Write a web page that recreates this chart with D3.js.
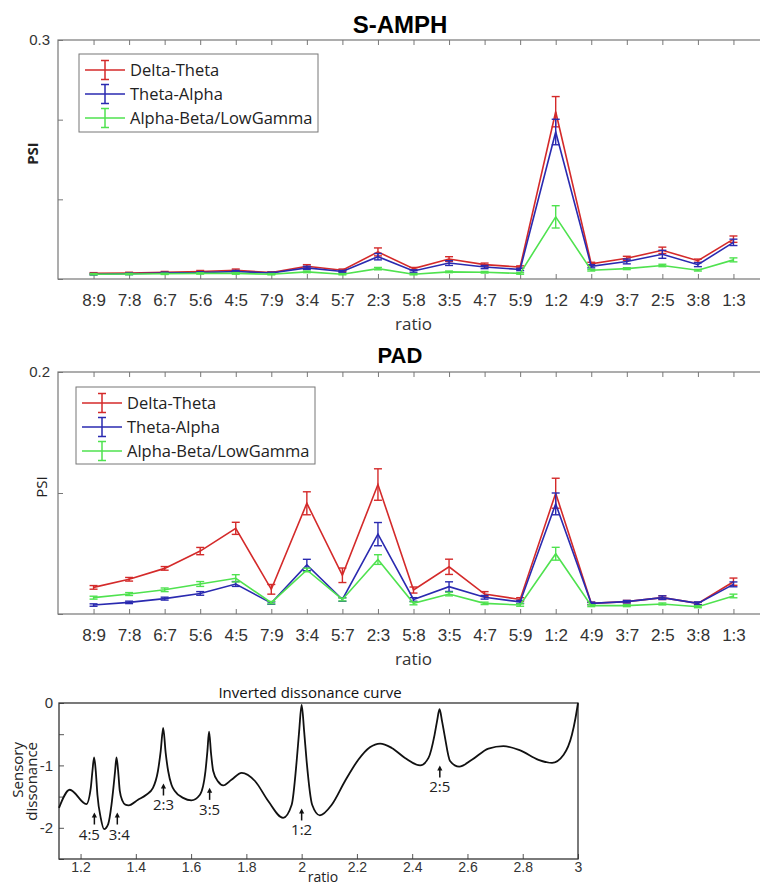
<!DOCTYPE html>
<html>
<head>
<meta charset="utf-8">
<script src="https://cdn.jsdelivr.net/npm/d3@7"></script>
<style>
  * { margin: 0; padding: 0; }
  body { background: #fff; }
  svg { display: block; font-family: "Open Sans", sans-serif; }
  .title { font-family: "Liberation Sans", Arial, sans-serif; font-weight: bold; fill: #000; }
  .tick text { fill: #333; }
</style>
</head>
<body>
<svg id="fig" width="760" height="886"></svg>
<script>
// ratio categories (x axis of both PSI panels)
var ratios = ["8:9","7:8","6:7","5:6","4:5","7:9","3:4","5:7","2:3","5:8","3:5","4:7","5:9","1:2","4:9","3:7","2:5","3:8","1:3"];
var seriesNames = ["Delta-Theta", "Theta-Alpha", "Alpha-Beta/LowGamma"];
var seriesColors = ["#d42a2a", "#2a2ab0", "#4fe24f"];

// S-AMPH panel
var dtS    = [0.007, 0.0075, 0.0085, 0.0095, 0.011, 0.008, 0.016, 0.011, 0.034, 0.013, 0.025, 0.018, 0.015, 0.210, 0.019, 0.026, 0.036, 0.023, 0.050];
var dtSErr = [0.001, 0.001, 0.001, 0.0012, 0.0015, 0.001, 0.002, 0.0015, 0.005, 0.0015, 0.003, 0.002, 0.0015, 0.019, 0.002, 0.0025, 0.004, 0.002, 0.004];
var taS    = [0.006, 0.0065, 0.0075, 0.008, 0.0095, 0.0075, 0.014, 0.0095, 0.028, 0.010, 0.020, 0.015, 0.012, 0.1845, 0.016, 0.022, 0.031, 0.018, 0.046];
var taSErr = [0.001, 0.001, 0.001, 0.001, 0.0012, 0.001, 0.002, 0.0012, 0.004, 0.0015, 0.003, 0.002, 0.0015, 0.016, 0.002, 0.003, 0.005, 0.0025, 0.004];
var abS    = [0.006, 0.0062, 0.0065, 0.007, 0.007, 0.006, 0.009, 0.006, 0.013, 0.006, 0.009, 0.0085, 0.007, 0.078, 0.011, 0.013, 0.017, 0.011, 0.024];
var abSErr = [0.0008, 0.0008, 0.0008, 0.0008, 0.001, 0.0008, 0.001, 0.0008, 0.0015, 0.0008, 0.001, 0.001, 0.001, 0.014, 0.001, 0.0012, 0.0015, 0.001, 0.0025];
var yTicksS = [0, 0.1, 0.2, 0.3];

// PAD panel
var dtP    = [0.022, 0.0287, 0.0377, 0.052, 0.0708, 0.0204, 0.0915, 0.032, 0.107, 0.0198, 0.039, 0.0165, 0.012, 0.0998, 0.0088, 0.0102, 0.0135, 0.0088, 0.0267];
var dtPErr = [0.0015, 0.0015, 0.0015, 0.003, 0.005, 0.004, 0.0095, 0.006, 0.013, 0.0025, 0.0063, 0.002, 0.0015, 0.0124, 0.001, 0.001, 0.0015, 0.001, 0.003];
var taP    = [0.0074, 0.0096, 0.0127, 0.017, 0.0248, 0.009, 0.0405, 0.012, 0.066, 0.012, 0.0226, 0.0138, 0.010, 0.091, 0.0088, 0.0102, 0.0135, 0.0088, 0.0245];
var taPErr = [0.001, 0.001, 0.0012, 0.0015, 0.002, 0.001, 0.0047, 0.0015, 0.0096, 0.0015, 0.004, 0.0015, 0.0012, 0.009, 0.001, 0.001, 0.0015, 0.0012, 0.002];
var abP    = [0.0135, 0.0165, 0.020, 0.0248, 0.0295, 0.0094, 0.0364, 0.012, 0.045, 0.0088, 0.0165, 0.0088, 0.0074, 0.0498, 0.0069, 0.0069, 0.0083, 0.006, 0.0149];
var abPErr = [0.0012, 0.0012, 0.0015, 0.002, 0.003, 0.001, 0.0015, 0.0012, 0.004, 0.0012, 0.0015, 0.001, 0.001, 0.0053, 0.0008, 0.0008, 0.0008, 0.0008, 0.0015];
var yTicksP = [0, 0.1, 0.2];

// inverted dissonance curve
var dissX = [1.122, 1.161, 1.221, 1.237, 1.243, 1.249, 1.255, 1.261, 1.273, 1.285, 1.300, 1.312, 1.320, 1.325, 1.330, 1.336, 1.342, 1.352, 1.362, 1.374,
             1.408, 1.438, 1.462, 1.480, 1.490, 1.499, 1.508, 1.517, 1.529, 1.541, 1.571, 1.601, 1.632, 1.652, 1.659, 1.665, 1.672, 1.680, 1.698, 1.716,
             1.746, 1.783, 1.831, 1.879, 1.933, 1.964, 1.982, 1.991, 2.000, 2.009, 2.018, 2.038, 2.066, 2.109, 2.157, 2.205, 2.247, 2.284, 2.326, 2.374,
             2.429, 2.459, 2.481, 2.490, 2.499, 2.508, 2.517, 2.537, 2.570, 2.616, 2.676, 2.730, 2.791, 2.857, 2.906, 2.948, 2.978, 2.991, 3.000];
var dissY = [-1.68, -1.39, -1.62, -1.36, -1.09, -0.87, -1.09, -1.47, -1.84, -2.02, -1.94, -1.63, -1.31, -1.09, -0.87, -1.09, -1.41, -1.57, -1.63, -1.64,
             -1.55, -1.47, -1.36, -1.09, -0.77, -0.40, -0.80, -1.09, -1.31, -1.41, -1.52, -1.56, -1.47, -1.09, -0.77, -0.46, -0.80, -1.09, -1.26, -1.32,
             -1.23, -1.12, -1.25, -1.57, -1.84, -1.63, -0.93, -0.45, -0.03, -0.45, -0.93, -1.63, -1.80, -1.63, -1.25, -0.91, -0.71, -0.65, -0.72, -0.88,
             -1.00, -0.88, -0.51, -0.29, -0.10, -0.29, -0.51, -0.93, -1.02, -0.91, -0.73, -0.69, -0.76, -0.91, -0.96, -0.83, -0.51, -0.24, 0.00];
var dissXTicks = [1.2, 1.4, 1.6, 1.8, 2, 2.2, 2.4, 2.6, 2.8, 3];
var dissYTicks = [0, -0.5, -1, -1.5, -2, -2.5];
var annLabels = ["4:5", "3:4", "2:3", "3:5", "1:2", "2:5"];
var annX      = [1.25, 1.333, 1.5, 1.667, 2, 2.5];
var annTipY   = [-1.755, -1.755, -1.29, -1.36, -1.69, -1.0];

var svg = d3.select("#fig");

function drawPsiPanel(cfg) {
  var g = svg.append("g");
  var x = d3.scaleLinear().domain([0, ratios.length + 1]).range([cfg.left, cfg.right]);
  var y = d3.scaleLinear().domain([0, cfg.yMax]).range([cfg.bottom, cfg.top]);
  var idx = d3.range(1, ratios.length + 1);

  g.append("g").attr("transform", "translate(0," + cfg.bottom + ")")
    .call(d3.axisBottom(x).tickValues(idx).tickFormat(function (d) { return ratios[d - 1]; })
      .tickSize(-5).tickPadding(15))
    .call(function (a) { a.select(".domain").remove(); })
    .selectAll("text").style("font-size", "17px");
  g.append("g").attr("transform", "translate(0," + cfg.top + ")")
    .call(d3.axisTop(x).tickValues(idx).tickFormat("").tickSize(-5))
    .call(function (a) { a.select(".domain").remove(); });
  g.append("g").attr("transform", "translate(" + cfg.left + ",0)")
    .call(d3.axisLeft(y).tickValues(cfg.ticks).tickSize(-5).tickPadding(8)
      .tickFormat(function (d) { return d === cfg.yMax ? d : ""; }))
    .call(function (a) { a.select(".domain").remove(); })
    .selectAll("text").style("font-size", "15px");
  g.append("g").attr("transform", "translate(" + cfg.right + ",0)")
    .call(d3.axisRight(y).tickValues(cfg.ticks).tickSize(-5).tickFormat(""))
    .call(function (a) { a.select(".domain").remove(); });
  g.selectAll(".tick line").attr("stroke", "#777");

  g.append("rect").attr("x", cfg.left).attr("y", cfg.top)
    .attr("width", cfg.right - cfg.left).attr("height", cfg.bottom - cfg.top)
    .attr("fill", "none").attr("stroke", "#777").attr("stroke-width", 1.2);

  var line = d3.line().x(function (d, i) { return x(i + 1); }).y(function (d) { return y(d); });

  cfg.series.forEach(function (s, k) {
    var col = seriesColors[k];
    g.append("path").datum(s.v).attr("d", line)
      .attr("fill", "none").attr("stroke", col).attr("stroke-width", 1.6);
    var eb = g.append("g").attr("stroke", col).attr("stroke-width", 1.4);
    s.v.forEach(function (v, i) {
      var cx = x(i + 1), y1 = y(v + s.e[i]), y0 = y(v - s.e[i]);
      eb.append("line").attr("x1", cx).attr("x2", cx).attr("y1", y1).attr("y2", y0);
      eb.append("line").attr("x1", cx - 4).attr("x2", cx + 4).attr("y1", y1).attr("y2", y1);
      eb.append("line").attr("x1", cx - 4).attr("x2", cx + 4).attr("y1", y0).attr("y2", y0);
    });
  });

  // legend
  var lg = g.append("g").attr("transform", "translate(" + cfg.legX + "," + cfg.legY + ")");
  lg.append("rect").attr("width", 239).attr("height", cfg.legH)
    .attr("fill", "#fff").attr("stroke", "#777").attr("stroke-width", 1);
  seriesNames.forEach(function (name, k) {
    var ly = 16 + k * 24;
    var row = lg.append("g").attr("stroke", seriesColors[k]).attr("stroke-width", 1.5);
    row.append("line").attr("x1", 6).attr("x2", 46).attr("y1", ly).attr("y2", ly);
    row.append("line").attr("x1", 26).attr("x2", 26).attr("y1", ly - 9.5).attr("y2", ly + 9.5);
    row.append("line").attr("x1", 22).attr("x2", 30).attr("y1", ly - 9.5).attr("y2", ly - 9.5);
    row.append("line").attr("x1", 22).attr("x2", 30).attr("y1", ly + 9.5).attr("y2", ly + 9.5);
    lg.append("text").attr("x", 51).attr("y", ly).attr("dy", "0.36em")
      .style("font-size", "16.5px").attr("fill", "#222").text(name);
  });

  g.append("text").attr("class", "title").attr("x", 400).attr("y", cfg.titleY)
    .attr("text-anchor", "middle").style("font-size", cfg.titleSize).text(cfg.title);
  g.append("text").attr("transform", "translate(" + cfg.psiX + "," + ((cfg.top + cfg.bottom) / 2 - 6) + ") rotate(-90)")
    .attr("text-anchor", "middle").style("font-size", "15px").style("font-weight", cfg.psiWeight)
    .attr("fill", "#222").text("PSI");
  g.append("text").attr("x", (cfg.left + cfg.right) / 2).attr("y", cfg.bottom + 51)
    .attr("text-anchor", "middle").style("font-size", "17px").attr("fill", "#333").text("ratio");
}

drawPsiPanel({
  left: 58, right: 769, top: 40, bottom: 279, yMax: 0.3, ticks: yTicksS,
  series: [{ v: dtS, e: dtSErr }, { v: taS, e: taSErr }, { v: abS, e: abSErr }],
  legX: 79, legY: 54, legH: 78, title: "S-AMPH", titleY: 33, titleSize: "24px",
  psiX: 38, psiWeight: "bold"
});
drawPsiPanel({
  left: 58, right: 769, top: 372, bottom: 614, yMax: 0.2, ticks: yTicksP,
  series: [{ v: dtP, e: dtPErr }, { v: taP, e: taPErr }, { v: abP, e: abPErr }],
  legX: 76, legY: 387, legH: 77, title: "PAD", titleY: 363, titleSize: "22px",
  psiX: 47, psiWeight: "normal"
});

// bottom panel: inverted dissonance curve
(function () {
  var L = 59, R = 578, T = 703, B = 859;
  var g = svg.append("g");
  var x = d3.scaleLinear().domain([1.122, 3]).range([L, R]);
  var y = d3.scaleLinear().domain([-2.5, 0]).range([B, T]);

  g.append("g").attr("transform", "translate(0," + B + ")")
    .call(d3.axisBottom(x).tickValues(dissXTicks).tickFormat(d3.format("~g")).tickSize(-5).tickPadding(3))
    .call(function (a) { a.select(".domain").remove(); })
    .selectAll("text").style("font-size", "14px");
  g.append("g").attr("transform", "translate(" + L + ",0)")
    .call(d3.axisLeft(y).tickValues(dissYTicks).tickSize(-5).tickPadding(6)
      .tickFormat(function (d) { return Number.isInteger(d) ? d3.format("~g")(d).replace("−", "-") : ""; }))
    .call(function (a) { a.select(".domain").remove(); })
    .selectAll("text").style("font-size", "15px");
  g.selectAll(".tick line").attr("stroke", "#555");

  g.append("rect").attr("x", L).attr("y", T).attr("width", R - L).attr("height", B - T)
    .attr("fill", "none").attr("stroke", "#333").attr("stroke-width", 1.3);

  var pts = dissX.map(function (d, i) { return [d, dissY[i]]; });
  g.append("path").datum(pts)
    .attr("d", d3.line().x(function (d) { return x(d[0]); }).y(function (d) { return y(d[1]); }).curve(d3.curveMonotoneX))
    .attr("fill", "none").attr("stroke", "#111").attr("stroke-width", 1.8);

  // the two close labels sit apart, as in the figure
  var nudge = { "4:5": -5, "3:4": 2 };
  annLabels.forEach(function (lab, i) {
    var ax = x(annX[i]), ty = y(annTipY[i]);
    g.append("line").attr("x1", ax).attr("x2", ax).attr("y1", ty + 3).attr("y2", ty + 12)
      .attr("stroke", "#111").attr("stroke-width", 1.5);
    g.append("path").attr("d", "M" + ax + "," + ty + "l-2.6,5h5.2z").attr("fill", "#111");
    g.append("text").attr("x", ax + (nudge[lab] || 0)).attr("y", ty + 27).attr("text-anchor", "middle")
      .style("font-size", "15px").attr("fill", "#222").text(lab);
  });

  g.append("text").attr("x", 310).attr("y", 698).attr("text-anchor", "middle")
    .style("font-size", "15px").attr("fill", "#111").text("Inverted dissonance curve");
  g.append("text").attr("x", 323).attr("y", 882).attr("text-anchor", "middle")
    .style("font-size", "14px").attr("fill", "#222").text("ratio");
  g.append("text").attr("transform", "translate(23,742) rotate(-90)").attr("text-anchor", "end")
    .style("font-size", "15px").attr("fill", "#222").text("Sensory");
  g.append("text").attr("transform", "translate(37,742) rotate(-90)").attr("text-anchor", "end")
    .style("font-size", "15px").attr("fill", "#222").text("dissonance");
})();
</script>
</body>
</html>
